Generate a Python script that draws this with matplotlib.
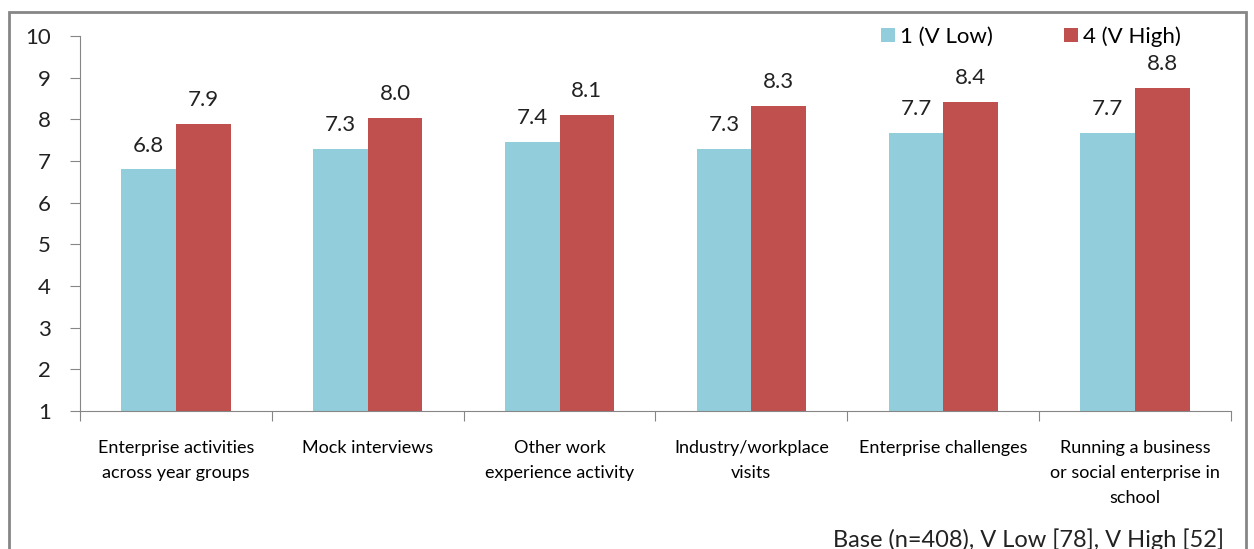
import matplotlib
matplotlib.use("Agg")
import matplotlib.pyplot as plt
import numpy as np
from matplotlib.patches import Rectangle

categories = ["Enterprise activities\nacross year groups", "Mock interviews",
              "Other work\nexperience activity", "Industry/workplace\nvisits",
              "Enterprise challenges", "Running a business\nor social enterprise in\nschool"]
v_low = [6.8, 7.3, 7.45, 7.3, 7.68, 7.68]
v_high = [7.9, 8.04, 8.1, 8.32, 8.42, 8.75]
low_labels = ["6.8", "7.3", "7.4", "7.3", "7.7", "7.7"]
high_labels = ["7.9", "8.0", "8.1", "8.3", "8.4", "8.8"]
series_names = ["1 (V Low)", "4 (V High)"]
yticks = list(range(1, 11))
note = "Base (n=408), V Low [78], V High [52]"

blue = "#92CDDC"
red = "#C0504D"
grey = "#868686"
num_font = "Lato"
cat_font = ["Liberation Sans Narrow", "Lato"]

fig = plt.figure(figsize=(12.54, 5.49), dpi=100)
ax = fig.add_axes([80 / 1254, 1 - 411 / 549, (1231 - 80) / 1254, (411 - 36) / 549])

# outer frame of the chart
fig.patches.append(Rectangle((9 / 1254, -0.05), (1246 - 9) / 1254, 1.05 - 12 / 549,
                             transform=fig.transFigure, fill=False,
                             edgecolor=grey, linewidth=2))

x = np.arange(len(categories))
w = 0.285
b1 = ax.bar(x - w / 2, np.array(v_low) - 1, w, bottom=1, color=blue, label=series_names[0])
b2 = ax.bar(x + w / 2, np.array(v_high) - 1, w, bottom=1, color=red, label=series_names[1])

for rect, lab in zip(b1, low_labels):
    ax.text(rect.get_x() + rect.get_width() / 2, rect.get_y() + rect.get_height() + 0.33, lab,
            ha="center", va="bottom", fontsize=16, family=num_font, color="#222222")
for rect, lab in zip(b2, high_labels):
    ax.text(rect.get_x() + rect.get_width() / 2, rect.get_y() + rect.get_height() + 0.33, lab,
            ha="center", va="bottom", fontsize=16, family=num_font, color="#222222")

ax.set_xlim(-0.5, len(categories) - 0.5)
ax.set_ylim(1, 10)
ax.set_yticks(yticks)
ax.set_yticklabels([str(t) for t in yticks], fontsize=16, family=num_font, color="#222222")

ax.set_xticks(np.arange(len(categories) + 1) - 0.5)
ax.set_xticklabels([])
ax.set_xticks(x, minor=True)
ax.set_xticklabels(categories, minor=True, fontsize=13, family=cat_font, va="top",
                   linespacing=1.7)
ax.tick_params(axis="x", which="minor", length=0, pad=21)
ax.tick_params(axis="x", which="major", length=7, color=grey, direction="out")
ax.tick_params(axis="y", length=7, color=grey, pad=14)

for s in ["top", "right"]:
    ax.spines[s].set_visible(False)
for s in ["left", "bottom"]:
    ax.spines[s].set_color(grey)

leg = ax.legend(loc="upper right", bbox_to_anchor=(0.974, 1.08), ncol=2, frameon=False,
                prop={"family": num_font, "size": 16}, handlelength=0.6, handleheight=0.6,
                handletextpad=0.25, columnspacing=3.2)

fig.text(1224 / 1254, 9 / 549, note, ha="right", va="center", fontsize=17, family=num_font,
         color="#222222")

fig.savefig("out.png", dpi=100)
